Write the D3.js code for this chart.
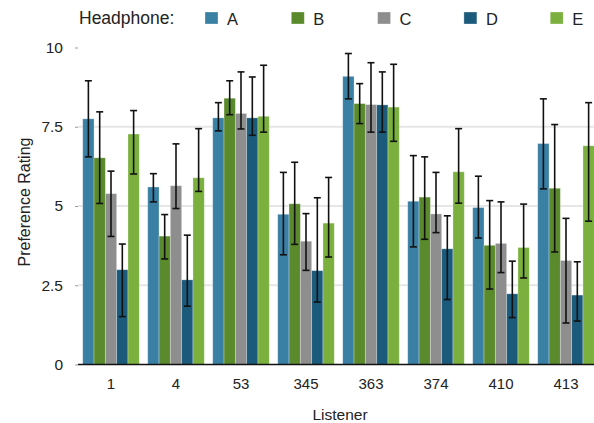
<!DOCTYPE html>
<html>
<head>
<meta charset="utf-8">
<script src="https://cdn.jsdelivr.net/npm/d3@7"></script>
<style>
  html, body { margin: 0; padding: 0; background: #fff; }
  svg { display: block; font-family: "Liberation Sans", Arial, Helvetica, sans-serif; }
</style>
</head>
<body>
<svg id="chart" width="594" height="423"></svg>
<script>
// Listener ids (x categories) and headphone series
const listeners = ["1", "4", "53", "345", "363", "374", "410", "413"];
const headphones = ["A", "B", "C", "D", "E"];
const colors = ["#3a7fa4", "#5a8a2b", "#8e8e8e", "#1b5a7b", "#7bb03f"];

// Mean preference rating per headphone, one entry per listener
const meanA = [7.75, 5.60, 7.78, 4.74, 9.09, 5.15, 4.95, 6.97];
const meanB = [6.52, 4.05, 8.40, 5.07, 8.23, 5.28, 3.76, 5.56];
const meanC = [5.39, 5.64, 7.92, 3.89, 8.20, 4.75, 3.82, 3.28];
const meanD = [2.99, 2.67, 7.78, 2.96, 8.19, 3.65, 2.23, 2.19];
const meanE = [7.27, 5.89, 7.83, 4.46, 8.12, 6.08, 3.69, 6.90];

// Lower / upper ends of the interval drawn around each mean
const lowA = [6.55, 5.13, 7.37, 3.46, 8.38, 3.71, 3.99, 5.54];
const highA = [8.95, 6.02, 8.26, 6.06, 9.81, 6.59, 5.94, 8.38];
const lowB = [5.08, 3.33, 7.88, 3.79, 7.60, 3.95, 2.38, 3.55];
const highB = [7.97, 4.73, 8.95, 6.38, 8.86, 6.55, 5.17, 7.57];
const lowC = [4.04, 4.92, 7.43, 2.97, 7.33, 4.16, 2.90, 1.31];
const highC = [6.10, 6.96, 9.23, 4.76, 9.52, 6.06, 5.13, 4.61];
const lowD = [1.51, 1.84, 7.23, 1.97, 7.33, 2.05, 1.48, 1.37];
const highD = [3.80, 4.08, 9.07, 5.26, 9.23, 4.69, 3.26, 3.24];
const lowE = [6.01, 5.46, 7.33, 3.39, 7.04, 5.09, 2.73, 4.52];
const highE = [8.01, 7.44, 9.44, 5.90, 9.47, 7.44, 5.06, 8.26];

const yTicks = [0, 2.5, 5, 7.5, 10];
const gridTicks = [2.5, 5, 7.5];

const means = [meanA, meanB, meanC, meanD, meanE];
const lows = [lowA, lowB, lowC, lowD, lowE];
const highs = [highA, highB, highC, highD, highE];

const rows = [];
listeners.forEach((l, i) => {
  headphones.forEach((h, j) => {
    rows.push({ listener: l, hp: h, j: j, mean: means[j][i], low: lows[j][i], high: highs[j][i] });
  });
});

const svg = d3.select("#chart");

const x0 = d3.scaleBand().domain(listeners).range([78.5, 598.5]).paddingInner(0.13).paddingOuter(0.065);
const x1 = d3.scaleBand().domain(headphones).range([0, x0.bandwidth()]).padding(0);
const y = d3.scaleLinear().domain([0, 10]).range([364.5, 47.5]);

// Horizontal grid lines
svg.append("g")
  .selectAll("line")
  .data(gridTicks)
  .join("line")
  .attr("x1", 78).attr("x2", 594)
  .attr("y1", d => y(d)).attr("y2", d => y(d))
  .attr("stroke", "#e6e6e6").attr("stroke-width", 2);

// Y axis: labels and tiny ticks, no domain line
const yAxis = svg.append("g")
  .attr("transform", "translate(78,0)")
  .call(d3.axisLeft(y).tickValues(yTicks).tickSize(3).tickPadding(12)
    .tickFormat(d => d3.format("~g")(d)));
yAxis.select(".domain").remove();
yAxis.selectAll(".tick line").attr("stroke", "#999");
yAxis.selectAll("text").attr("font-size", 15.5).attr("fill", "#222")
  .attr("font-family", "'Liberation Sans', Arial, sans-serif");

// Bars
const groups = svg.append("g")
  .selectAll("g")
  .data(listeners)
  .join("g")
  .attr("transform", d => `translate(${x0(d)},0)`);

groups.selectAll("rect")
  .data(d => rows.filter(r => r.listener === d))
  .join("rect")
  .attr("x", d => x1(d.hp))
  .attr("width", x1.bandwidth())
  .attr("y", d => y(d.mean))
  .attr("height", d => y(0) - y(d.mean))
  .attr("fill", d => colors[d.j])
  .attr("stroke", "rgba(255,255,255,0.35)")
  .attr("stroke-width", 0.8);

// Error bars
const eb = groups.selectAll("g.err")
  .data(d => rows.filter(r => r.listener === d))
  .join("g")
  .attr("class", "err")
  .attr("transform", d => `translate(${x1(d.hp) + x1.bandwidth() / 2},0)`);
eb.append("line")
  .attr("y1", d => y(d.low)).attr("y2", d => y(d.high))
  .attr("stroke", "#111").attr("stroke-width", 1.6);
eb.append("line")
  .attr("x1", -3.5).attr("x2", 3.5)
  .attr("y1", d => y(d.high)).attr("y2", d => y(d.high))
  .attr("stroke", "#111").attr("stroke-width", 1.6);
eb.append("line")
  .attr("x1", -3.5).attr("x2", 3.5)
  .attr("y1", d => y(d.low)).attr("y2", d => y(d.low))
  .attr("stroke", "#111").attr("stroke-width", 1.6);

// X axis
const xAxis = svg.append("g")
  .attr("transform", `translate(0,${y(0)})`)
  .call(d3.axisBottom(x0).tickSize(0).tickPadding(14));
xAxis.select(".domain").attr("stroke", "#111").attr("stroke-width", 1.6)
  .attr("d", "M78,0H594");
xAxis.selectAll("text").attr("font-size", 15).attr("fill", "#222")
  .attr("font-family", "'Liberation Sans', Arial, sans-serif");

// Axis titles
svg.append("text")
  .attr("x", 340).attr("y", 420)
  .attr("text-anchor", "middle")
  .attr("font-size", 15.5).attr("fill", "#222")
  .text("Listener");
svg.append("text")
  .attr("transform", "translate(30,202) rotate(-90)")
  .attr("text-anchor", "middle")
  .attr("font-size", 16).attr("fill", "#222")
  .text("Preference Rating");

// Legend
svg.append("text")
  .attr("x", 79).attr("y", 24)
  .attr("font-size", 17.5).attr("fill", "#222")
  .text("Headphone:");
const leg = svg.append("g")
  .selectAll("g")
  .data(headphones)
  .join("g")
  .attr("transform", (d, i) => `translate(${205 + i * 86.3},12)`);
leg.append("rect")
  .attr("width", 13).attr("height", 12)
  .attr("fill", (d, i) => colors[i])
  .attr("stroke", "rgba(255,255,255,0.4)").attr("stroke-width", 0.8);
leg.append("text")
  .attr("x", 22).attr("y", 12.5)
  .attr("font-size", 16.5).attr("fill", "#222")
  .text(d => d);
</script>
</body>
</html>
